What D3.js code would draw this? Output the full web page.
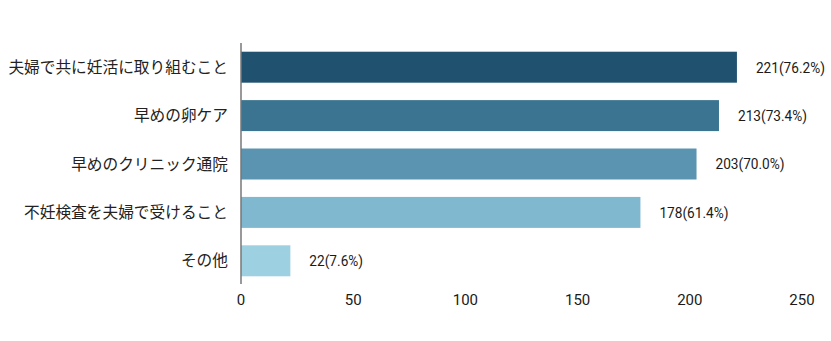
<!DOCTYPE html>
<html><head><meta charset="utf-8">
<script src="https://cdn.jsdelivr.net/npm/d3@7"></script>
<style>body{margin:0;background:#fff}</style>
</head><body>
<svg id="c" width="831" height="341"></svg>
<script>
const categories = ["夫婦で共に妊活に取り組むこと","早めの卵ケア","早めのクリニック通院","不妊検査を夫婦で受けること","その他"];
const values = [221,213,203,178,22];
const percents = ["76.2%","73.4%","70.0%","61.4%","7.6%"];
const colors = ["#20516f","#3a7490","#5a94b0","#80b8d0","#9dd0e0"];
const ticks = [0,50,100,150,200,250];

const numFont = "Roboto, 'DejaVu Sans', sans-serif";
const svg = d3.select("#c");
const x = d3.scaleLinear().domain([0,250]).range([241,802]);
const y = d3.scaleBand().domain(categories).range([43,285]).paddingInner(0.36).paddingOuter(0.18);

svg.selectAll("rect.bar").data(values).join("rect")
  .attr("x", x(0)).attr("y",(d,i)=>y(categories[i]))
  .attr("width", d=>x(d)-x(0)).attr("height", y.bandwidth())
  .attr("fill",(d,i)=>colors[i]);

svg.selectAll("text.val").data(values).join("text")
  .attr("transform",(d,i)=>`translate(${x(d)+19},${y(categories[i])+y.bandwidth()/2}) scale(0.91,1)`)
  .attr("dy","0.36em")
  .attr("font-family",numFont)
  .attr("font-size",15).attr("fill","#1a1a1a")
  .text((d,i)=>`${d}(${percents[i]})`);

svg.selectAll("text.cat").data(categories).join("text")
  .attr("x", 228).attr("y", d=>y(d)+y.bandwidth()/2)
  .attr("dy","0.36em").attr("text-anchor","end")
  .attr("font-family","'Noto Sans CJK JP', sans-serif")
  .attr("font-size",15.7).attr("fill","#222")
  .text(d=>d);

svg.append("line").attr("x1",241).attr("x2",241).attr("y1",43).attr("y2",284)
  .attr("stroke","#777").attr("stroke-width",1.5);

svg.selectAll("text.tick").data(ticks).join("text")
  .attr("transform", d=>`translate(${x(d)},300)`)
  .attr("dy","0.36em").attr("text-anchor","middle")
  .attr("font-family",numFont)
  .attr("font-size",15).attr("fill","#1a1a1a")
  .text(d=>d);
</script>
</body></html>
